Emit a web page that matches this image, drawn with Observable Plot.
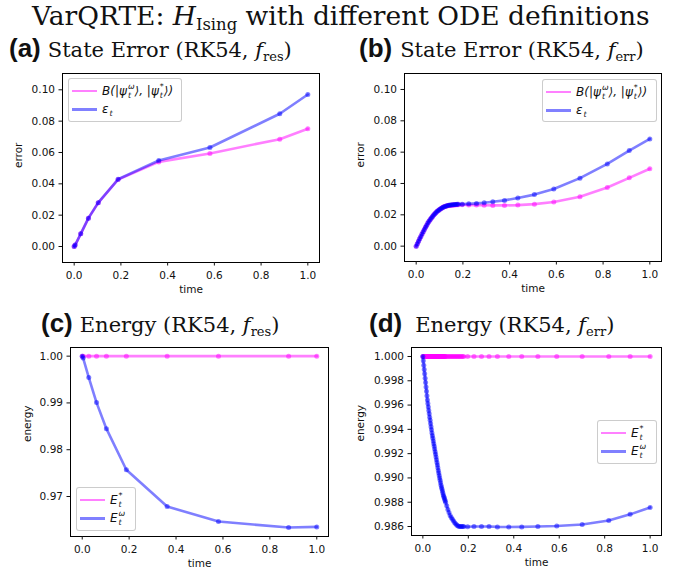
<!DOCTYPE html>
<html><head><meta charset="utf-8">
<script src="https://cdn.jsdelivr.net/npm/d3@7"></script>
<script src="https://cdn.jsdelivr.net/npm/@observablehq/plot@0.6"></script>
<style>
body{margin:0;background:#fff}
#fig{position:relative;width:686px;height:576px;overflow:hidden;background:#fff}
.abs{position:absolute;white-space:nowrap}
.serif{font-family:"DejaVu Serif",serif}
.title{font-size:26.5px;color:#111;line-height:32px}
.ptitle{font-size:21px;color:#111;line-height:30px}
.lbl{font-family:"Liberation Sans",Arial,sans-serif;font-weight:bold;font-size:26px;margin-right:7px}
.sub{font-size:0.62em;position:relative;top:0.3em;font-style:normal}
.leg{position:absolute;border:1px solid rgba(0,0,0,0.2);border-radius:3px;background:rgba(255,255,255,0.85)}
.sw{position:absolute;height:2.6px;width:25px}
.lt{position:absolute;font-family:"DejaVu Sans",sans-serif;font-size:12px;font-style:italic;color:#111;line-height:16px}
.ss{display:inline-flex;flex-direction:column;vertical-align:middle;font-size:0.66em;line-height:1.05;margin-left:1px;font-style:italic}
svg{position:absolute}
</style></head>
<body><div id="fig"></div>
<script>
// ---- data ----
const xTicks = [0, 0.2, 0.4, 0.6, 0.8, 1.0];
const errTicks = [0, 0.02, 0.04, 0.06, 0.08, 0.10];
const energyTicksRes = [0.97, 0.98, 0.99, 1.00];
const energyTicksErr = [0.986, 0.988, 0.990, 0.992, 0.994, 0.996, 0.998, 1.000];

// RK54 with f_res
const tRes = [0, 0.004, 0.028, 0.061, 0.103, 0.188, 0.362, 0.581, 0.880, 1.0];
const buresRes = [0, 0.0009, 0.0081, 0.0181, 0.0279, 0.0428, 0.0540, 0.0594, 0.0685, 0.0751];
const epsRes = [0, 0.0009, 0.0081, 0.0181, 0.0280, 0.0429, 0.0549, 0.0632, 0.0847, 0.0970];
const exactERes = [1, 1, 1, 1, 1, 1, 1, 1, 1, 1];
const varERes = [1.0, 0.9996, 0.99543, 0.99007, 0.9845, 0.97571, 0.96786, 0.96464, 0.96336, 0.9635];

// RK54 with f_err: state error (dense early steps, then sparse)
const tErr = [0, 0.005, 0.01, 0.015, 0.02, 0.025, 0.03, 0.035, 0.04, 0.045, 0.05, 0.055, 0.06, 0.065, 0.07, 0.075,
  0.08, 0.085, 0.09, 0.095, 0.10, 0.105, 0.11, 0.115, 0.12, 0.125, 0.13, 0.135, 0.14, 0.145, 0.15, 0.155,
  0.16, 0.165, 0.17, 0.175, 0.18,
  0.197, 0.225, 0.258, 0.291, 0.328, 0.378, 0.435, 0.506, 0.589, 0.701, 0.818, 0.912, 1.0];
const buresErr = [0, 0.00155, 0.0031, 0.00465, 0.0062, 0.0077, 0.0092, 0.0107, 0.0121, 0.0134, 0.0147, 0.0159, 0.0170, 0.0180, 0.0190, 0.0199,
  0.0207, 0.0215, 0.0222, 0.0228, 0.0234, 0.0239, 0.0244, 0.0248, 0.0251, 0.0254, 0.0256, 0.0258, 0.0259, 0.0260, 0.0261, 0.0262,
  0.0263, 0.0263, 0.0264, 0.0264, 0.0264,
  0.0264, 0.0263, 0.0262, 0.0261, 0.0260, 0.0260, 0.0262, 0.0268, 0.0282, 0.0315, 0.0374, 0.0436, 0.0494];
const epsErr = [0, 0.00155, 0.0031, 0.00465, 0.0062, 0.0077, 0.0092, 0.0107, 0.0121, 0.0134, 0.0147, 0.0159, 0.0170, 0.0180, 0.0190, 0.0199,
  0.0207, 0.0215, 0.0222, 0.0228, 0.0234, 0.0239, 0.0244, 0.0248, 0.0251, 0.0254, 0.0257, 0.0259, 0.0261, 0.0262, 0.0263, 0.0264,
  0.0265, 0.0266, 0.0266, 0.0267, 0.0267,
  0.0268, 0.0270, 0.0273, 0.0277, 0.0283, 0.0292, 0.0307, 0.0329, 0.0365, 0.0434, 0.0525, 0.0610, 0.0684];

// RK54 with f_err: energy (steep early part read finely)
const tErrE = [0, 0.002, 0.004, 0.006, 0.008, 0.010, 0.012, 0.014, 0.016, 0.018, 0.020, 0.022, 0.024, 0.026, 0.028,
  0.030, 0.032, 0.034, 0.036, 0.038, 0.040, 0.042, 0.044, 0.046, 0.048, 0.050, 0.052, 0.054, 0.056, 0.058,
  0.060, 0.062, 0.064, 0.066, 0.068, 0.070, 0.072, 0.074, 0.076, 0.078, 0.080, 0.082, 0.084, 0.086, 0.088,
  0.090, 0.092, 0.094, 0.096, 0.098, 0.100,
  0.105, 0.11, 0.115, 0.12, 0.125, 0.13, 0.135, 0.14, 0.145, 0.15, 0.155, 0.16, 0.165, 0.17, 0.175, 0.18,
  0.197, 0.225, 0.258, 0.291, 0.328, 0.378, 0.435, 0.506, 0.589, 0.701, 0.818, 0.912, 1.0];
const exactEErr = [1, 1, 1, 1, 1, 1, 1, 1, 1, 1, 1, 1, 1, 1, 1,
  1, 1, 1, 1, 1, 1, 1, 1, 1, 1, 1, 1, 1, 1, 1,
  1, 1, 1, 1, 1, 1, 1, 1, 1, 1, 1, 1, 1, 1, 1,
  1, 1, 1, 1, 1, 1,
  1, 1, 1, 1, 1, 1, 1, 1, 1, 1, 1, 1, 1, 1, 1, 1,
  1, 1, 1, 1, 1, 1, 1, 1, 1, 1, 1, 1, 1];
const varEErr = [1.0, 0.99964, 0.99928, 0.99893, 0.99857, 0.99821, 0.99785, 0.99749, 0.99713, 0.99677, 0.99641, 0.99612, 0.99584, 0.99556, 0.99528,
  0.99500, 0.99474, 0.99448, 0.99422, 0.99396, 0.99370, 0.99348, 0.99326, 0.99304, 0.99282, 0.99260, 0.99238, 0.99216, 0.99194, 0.99172,
  0.99150, 0.99128, 0.99106, 0.99084, 0.99062, 0.99040, 0.99020, 0.99000, 0.98980, 0.98960, 0.98940, 0.98924, 0.98908, 0.98892, 0.98876,
  0.98860, 0.98848, 0.98836, 0.98824, 0.98812, 0.98800,
  0.9877, 0.9874, 0.98715, 0.9869, 0.98675, 0.9866, 0.98645, 0.9863, 0.9862, 0.9861, 0.98605, 0.9860, 0.9860, 0.9860, 0.9860, 0.9860,
  0.98598, 0.98600, 0.98600, 0.98600, 0.98597, 0.98596, 0.98597, 0.98600, 0.98604, 0.98617, 0.98650, 0.98700, 0.98757];

const PINK = "#ff00ff", BLUE = "#0000ff";
const fig = document.getElementById("fig");

function add(html) { fig.insertAdjacentHTML("beforeend", html); }

add(`<div class="abs serif title" style="left:32px;top:0px">VarQRTE: <i>H</i><span class="sub">Ising</span> with different ODE definitions</div>`);

function ptitle(left, top, lbl, txt, gap) {
  add(`<div class="abs serif ptitle" style="left:${left}px;top:${top}px"><span class="lbl" style="margin-right:${gap}px">(${lbl})</span>${txt}</div>`);
}
ptitle(9, 33, "a", `State Error (RK54, <i>f</i><span class="sub">res</span>)`, 7);
ptitle(359, 33, "b", `State Error (RK54, <i>f</i><span class="sub">err</span>)`, 8);
ptitle(41, 308, "c", `Energy (RK54, <i>f</i><span class="sub">res</span>)`, 7);
ptitle(369, 308, "d", `Energy (RK54, <i>f</i><span class="sub">err</span>)`, 13);

function panel(o) {
  const marks = [];
  for (const s of o.series) {
    const idx = d3.range(s.t.length);
    marks.push(Plot.line(idx, {x: i => s.t[i], y: i => s.v[i], stroke: s.color, strokeOpacity: 0.5, strokeWidth: 2.6}));
    marks.push(Plot.dot(idx, {x: i => s.t[i], y: i => s.v[i], fill: s.color, fillOpacity: 0.5, r: 2.5}));
  }
  marks.push(Plot.frame({stroke: "black", strokeWidth: 1}));
  marks.push(Plot.axisX({ticks: xTicks, tickFormat: d3.format(".1f"), tickSize: 3.5, tickPadding: 5.5, label: null, fontSize: 10.5}));
  marks.push(Plot.axisY({ticks: o.yticks, tickFormat: d3.format(o.yfmt), tickSize: 3.5, tickPadding: 4, label: null, fontSize: 10.5}));
  marks.push(Plot.text([o.ylabel], {text: d => d, frameAnchor: "left", dx: o.ylabelDx, rotate: -90, fontSize: 10.5}));
  marks.push(Plot.text(["time"], {text: d => d, frameAnchor: "bottom", dy: 30, fontSize: 10.5}));
  const svg = Plot.plot({
    width: o.w, height: o.h,
    marginLeft: o.ml, marginRight: o.mr, marginTop: o.mt, marginBottom: o.mb,
    x: {domain: [-0.05, 1.05]},
    y: {domain: o.ydom},
    style: {fontFamily: "DejaVu Sans, sans-serif", fontSize: "10px", color: "#111", background: "transparent", overflow: "visible"},
    marks
  });
  svg.style.left = o.left + "px";
  svg.style.top = o.top + "px";
  fig.appendChild(svg);
}

panel({left: 0, top: 66, w: 343, h: 236, ml: 62, mr: 24, mt: 7, mb: 40,
  ydom: [-0.0102, 0.1104], yticks: errTicks, yfmt: ".2f", ylabel: "error", ylabelDx: -44,
  series: [{t: tRes, v: buresRes, color: PINK}, {t: tRes, v: epsRes, color: BLUE}]});
panel({left: 343, top: 66, w: 343, h: 236, ml: 61, mr: 25, mt: 7, mb: 41,
  ydom: [-0.0098, 0.1102], yticks: errTicks, yfmt: ".2f", ylabel: "error", ylabelDx: -43.5,
  series: [{t: tErr, v: buresErr, color: PINK}, {t: tErr, v: epsErr, color: BLUE}]});
panel({left: 0, top: 340, w: 343, h: 236, ml: 70, mr: 15, mt: 7, mb: 40,
  ydom: [0.96145, 1.00185], yticks: energyTicksRes, yfmt: ".2f", ylabel: "energy", ylabelDx: -43,
  series: [{t: tRes, v: exactERes, color: PINK}, {t: tRes, v: varERes, color: BLUE}]});
panel({left: 343, top: 340, w: 343, h: 236, ml: 68, mr: 25, mt: 7, mb: 41,
  ydom: [0.98526, 1.00074], yticks: energyTicksErr, yfmt: ".3f", ylabel: "energy", ylabelDx: -51,
  series: [{t: tErrE, v: exactEErr, color: PINK}, {t: tErrE, v: varEErr, color: BLUE}]});

// legends
const psiW = `<i>ψ</i><span class="ss"><span>ω</span><span>t</span></span>`;
const psiS = `<i>ψ</i><span class="ss"><span>*</span><span>t</span></span>`;
const labB = `<i>B</i>(|${psiW}⟩, |${psiS}⟩)`;
const labEps = `<i>ε</i><span class="ss"><span>&nbsp;</span><span>t</span></span>`;
const labEs = `<i>E</i><span class="ss"><span>*</span><span>t</span></span>`;
const labEw = `<i>E</i><span class="ss"><span>ω</span><span>t</span></span>`;

function legend(left, top, w, h, rows) {
  let html = `<div class="leg" style="left:${left}px;top:${top}px;width:${w}px;height:${h}px">`;
  rows.forEach((r, i) => {
    const cy = 12 + i * 18.3;
    html += `<div class="sw" style="left:3px;top:${cy - 1.3}px;background:${r.color}"></div>`;
    html += `<div class="lt" style="left:33px;top:${cy - 8}px">${r.label}</div>`;
  });
  html += `</div>`;
  add(html);
}
legend(68, 78, 112, 42, [{color: "#ff80ff", label: labB}, {color: "#8080ff", label: labEps}]);
legend(542, 79, 113, 41, [{color: "#ff80ff", label: labB}, {color: "#8080ff", label: labEps}]);
legend(76, 487, 58, 42, [{color: "#ff80ff", label: labEs}, {color: "#8080ff", label: labEw}]);
legend(597, 420, 58, 42, [{color: "#ff80ff", label: labEs}, {color: "#8080ff", label: labEw}]);
</script>
</body></html>
